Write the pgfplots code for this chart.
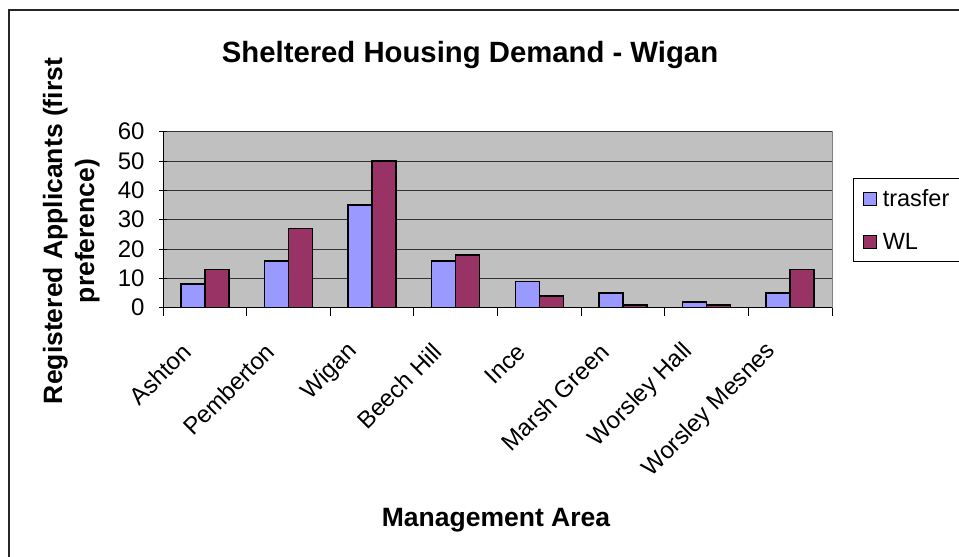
\documentclass[border=0pt]{standalone}
\usepackage{pgfplots}
\pgfplotsset{compat=1.18}
\usepackage{fontspec}
\setmainfont{Liberation Sans}
\definecolor{barblue}{HTML}{9999FF}
\definecolor{barmaroon}{HTML}{993366}
\definecolor{plotgray}{HTML}{C0C0C0}
\begin{document}
\begin{tikzpicture}[x=1pt,y=1pt]
\useasboundingbox (0,0) rectangle (959,557);
\draw[line width=1.5pt, black!85] (9,-20) -- (9,547) -- (990,547);
\begin{axis}[
  at={(163pt,249.3pt)}, anchor=south west,
  width=669pt, height=176pt, scale only axis,
  xmin=-0.5, xmax=7.5, ymin=0, ymax=60,
  ytick={0,10,...,60},
  xtick={0,...,7},
  xticklabels={Ashton,Pemberton,Wigan,Beech Hill,Ince,Marsh Green,Worsley Hall,Worsley Mesnes},
  minor xtick={-0.5,0.5,...,7.5},
  major x tick style={draw=none},
  tick align=outside,
  major tick length=8pt, minor tick length=8pt,
  tick style={black, line width=1pt},
  axis x line=bottom, axis y line=left,
  axis line style={-, black, line width=1pt},
  ymajorgrids, major grid style={black!80, line width=0.8pt},
  axis background/.style={fill=plotgray, draw=black!50, line width=1pt},
  /pgf/number format/assume math mode=true,
  ticklabel style={font=\fontsize{24}{28}\selectfont},
  yticklabel style={anchor=east, xshift=-11pt},
  xticklabel style={xshift=-18pt, yshift=-32pt, rotate=45, anchor=east, inner sep=0pt},
  ybar=0pt, bar width=0.287,
  legend style={at={(1.0314,0.737)}, anchor=north west, draw=black, line width=1pt,
    fill=white, font=\fontsize{23.5}{27}\selectfont, row sep=21pt,
    inner xsep=9pt, inner ysep=9pt},
  legend cell align=left,
  legend image code/.code={\draw[#1, line width=1pt] (0pt,-6.5pt) rectangle (13pt,6.5pt); \path (17pt,0pt);},
]
\addplot[fill=barblue, draw=black, line width=1.5pt] coordinates {(0,8) (1,16) (2,35) (3,16) (4,9) (5,5) (6,2) (7,5)};
\addplot[fill=barmaroon, draw=black, line width=1.5pt] coordinates {(0,13) (1,27) (2,50) (3,18) (4,4) (5,1) (6,1) (7,13)};
\legend{trasfer,WL}
\end{axis}
\node[anchor=base, font=\bfseries\fontsize{29.3}{35}\selectfont] at (470,494) {Sheltered Housing Demand - Wigan};
\node[anchor=base, font=\bfseries\fontsize{26.5}{31}\selectfont] at (496,30) {Management Area};
\node[rotate=90, anchor=base, font=\bfseries\fontsize{26.5}{31}\selectfont] at (62,326) {Registered Applicants (first};
\node[rotate=90, anchor=base, font=\bfseries\fontsize{26.5}{31}\selectfont] at (94,326) {preference)};
\end{tikzpicture}
\end{document}
